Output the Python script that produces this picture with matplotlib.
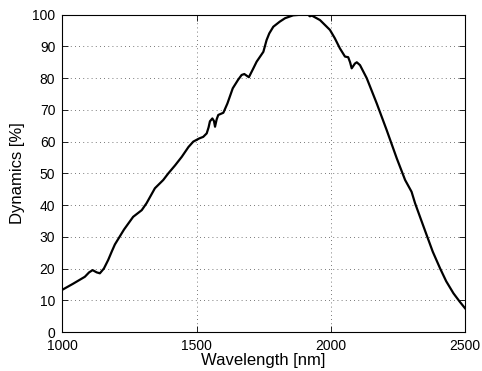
import matplotlib
matplotlib.use('Agg')
import matplotlib.pyplot as plt

plt.rcParams['font.family'] = ['Liberation Sans', 'DejaVu Sans']

# values
wavelength = [1000, 1040, 1084, 1100, 1113, 1128, 1140, 1155, 1171, 1185, 1196,
              1230, 1264, 1296, 1314, 1345, 1376, 1395, 1420, 1445, 1470, 1488,
              1510, 1525, 1538, 1545, 1550, 1559, 1565, 1569, 1575, 1581, 1600,
              1615, 1635, 1655, 1668, 1678, 1695, 1710, 1724, 1749, 1761, 1771,
              1786, 1810, 1830, 1860, 1890, 1916, 1922, 1930, 1960, 1997, 2015,
              2034, 2053, 2065, 2072, 2078, 2090, 2097, 2109, 2134, 2171, 2208,
              2246, 2277, 2301, 2314, 2335, 2357, 2380, 2407, 2430, 2457, 2480,
              2500]
dynamics = [13.3, 15.2, 17.4, 18.8, 19.5, 18.8, 18.5, 20.0, 22.7, 25.5, 27.6,
            32.3, 36.3, 38.4, 40.6, 45.3, 47.9, 50.0, 52.5, 55.2, 58.3, 60.0,
            61.0, 61.5, 62.6, 64.5, 66.4, 67.3, 66.5, 64.7, 67.0, 68.4, 69.1,
            72.0, 76.8, 79.5, 81.0, 81.3, 80.3, 82.8, 85.2, 88.3, 92.0, 94.1,
            96.2, 97.8, 98.9, 99.8, 100.0, 100.0, 99.5, 99.7, 98.3, 95.2, 92.6,
            89.4, 86.8, 86.6, 85.0, 83.1, 84.6, 85.0, 84.1, 80.0, 72.1, 63.7,
            54.7, 47.9, 44.2, 40.6, 35.7, 30.6, 25.3, 20.1, 16.0, 12.2, 9.6,
            7.5]

fig = plt.figure(figsize=(4.82, 3.71), dpi=100)
ax = fig.add_axes([0.1292, 0.1051, 0.8355, 0.8553])

ax.plot(wavelength, dynamics, color='black', linewidth=1.6)

ax.set_xlim(1000, 2500)
ax.set_ylim(0, 100)
ax.set_xticks([1000, 1500, 2000, 2500])
ax.set_yticks(range(0, 101, 10))
ax.grid(True, linestyle=(0, (1, 4)), color='black', linewidth=0.6, alpha=0.7)
ax.tick_params(direction='in', top=True, right=True, labelsize=10, length=4, width=0.6)
ax.tick_params(axis='x', pad=5)
ax.tick_params(axis='y', pad=5)
for s in ax.spines.values():
    s.set_linewidth(0.8)

ax.set_xlabel('Wavelength [nm]', fontsize=12, labelpad=0)
ax.set_ylabel('Dynamics [%]', fontsize=12, labelpad=5)

fig.savefig('out.png', dpi=100)
